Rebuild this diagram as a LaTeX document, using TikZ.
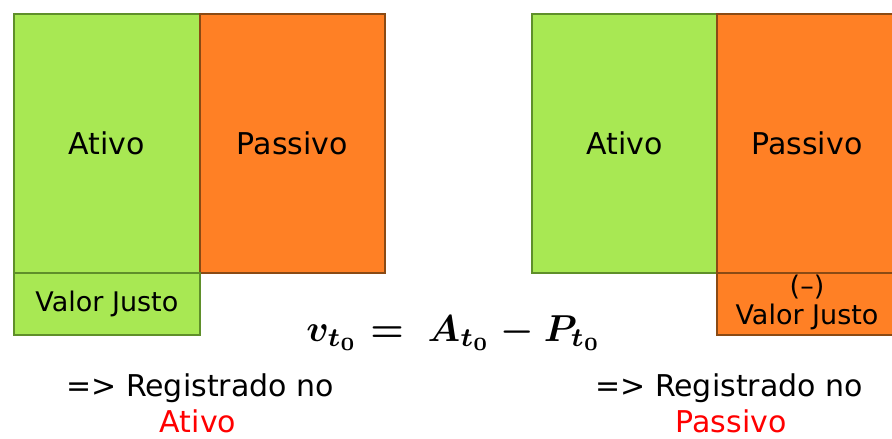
\documentclass[tikz,border=0pt]{standalone}
\usepackage{fontspec}
\usepackage{amsmath}
\usepackage{graphicx}
\setmainfont{DejaVu Sans}
\definecolor{gfill}{HTML}{A8E853}
\definecolor{gdraw}{HTML}{5F8F2A}
\definecolor{ofill}{HTML}{FF8025}
\definecolor{odraw}{HTML}{8A4A14}
\definecolor{redtxt}{HTML}{FF0000}
\tikzset{
  gbox/.style={draw=gdraw, fill=gfill, line width=1.8pt, anchor=north west, inner sep=0pt, align=center},
  obox/.style={draw=odraw, fill=ofill, line width=1.8pt, anchor=north west, inner sep=0pt, align=center},
  big/.style={font=\fontsize{30}{34}\selectfont},
  mid/.style={font=\fontsize{27}{30}\selectfont},
  lbl/.style={font=\fontsize{30}{34}\selectfont, inner sep=0pt},
}
\begin{document}
\begin{tikzpicture}[x=1pt,y=-1pt]
\useasboundingbox (0,0) rectangle (892,439);
% left
\node[gbox,big,minimum width=186pt,minimum height=259pt] (la) at (13,13) {Ativo};
\node[obox,big,minimum width=185pt,minimum height=259pt] (lp) at (199,13) {Passivo};
\node[gbox,mid,minimum width=186pt,minimum height=62pt] (lv) at (13,272) {Valor Justo};
% right
\node[gbox,big,minimum width=185pt,minimum height=259pt] (ra) at (531,13) {Ativo};
\node[obox,big,minimum width=180pt,minimum height=259pt] (rp) at (716,13) {Passivo};
\node[obox,mid,minimum width=180pt,minimum height=62pt] (rv) at (716,272) {};
\node[mid,inner sep=0pt] (rvm) at (807,287) {(–)};
\node[mid,inner sep=0pt] (rvt) at (807,317) {Valor Justo};
% formula
\node[inner sep=0pt] (eq) at (454,333) {\scalebox{3.75}{\boldmath$v_{t_0} =\ A_{t_0} - P_{t_0}$}};
% labels
\node[lbl] (lr) at (200,388) {=> Registrado no};
\node[lbl,text=redtxt] (lr2) at (198,421) {Ativo};
\node[lbl] (rr) at (729,388) {=> Registrado no};
\node[lbl,text=redtxt] (rr2) at (731,421) {Passivo};
\end{tikzpicture}
\end{document}
